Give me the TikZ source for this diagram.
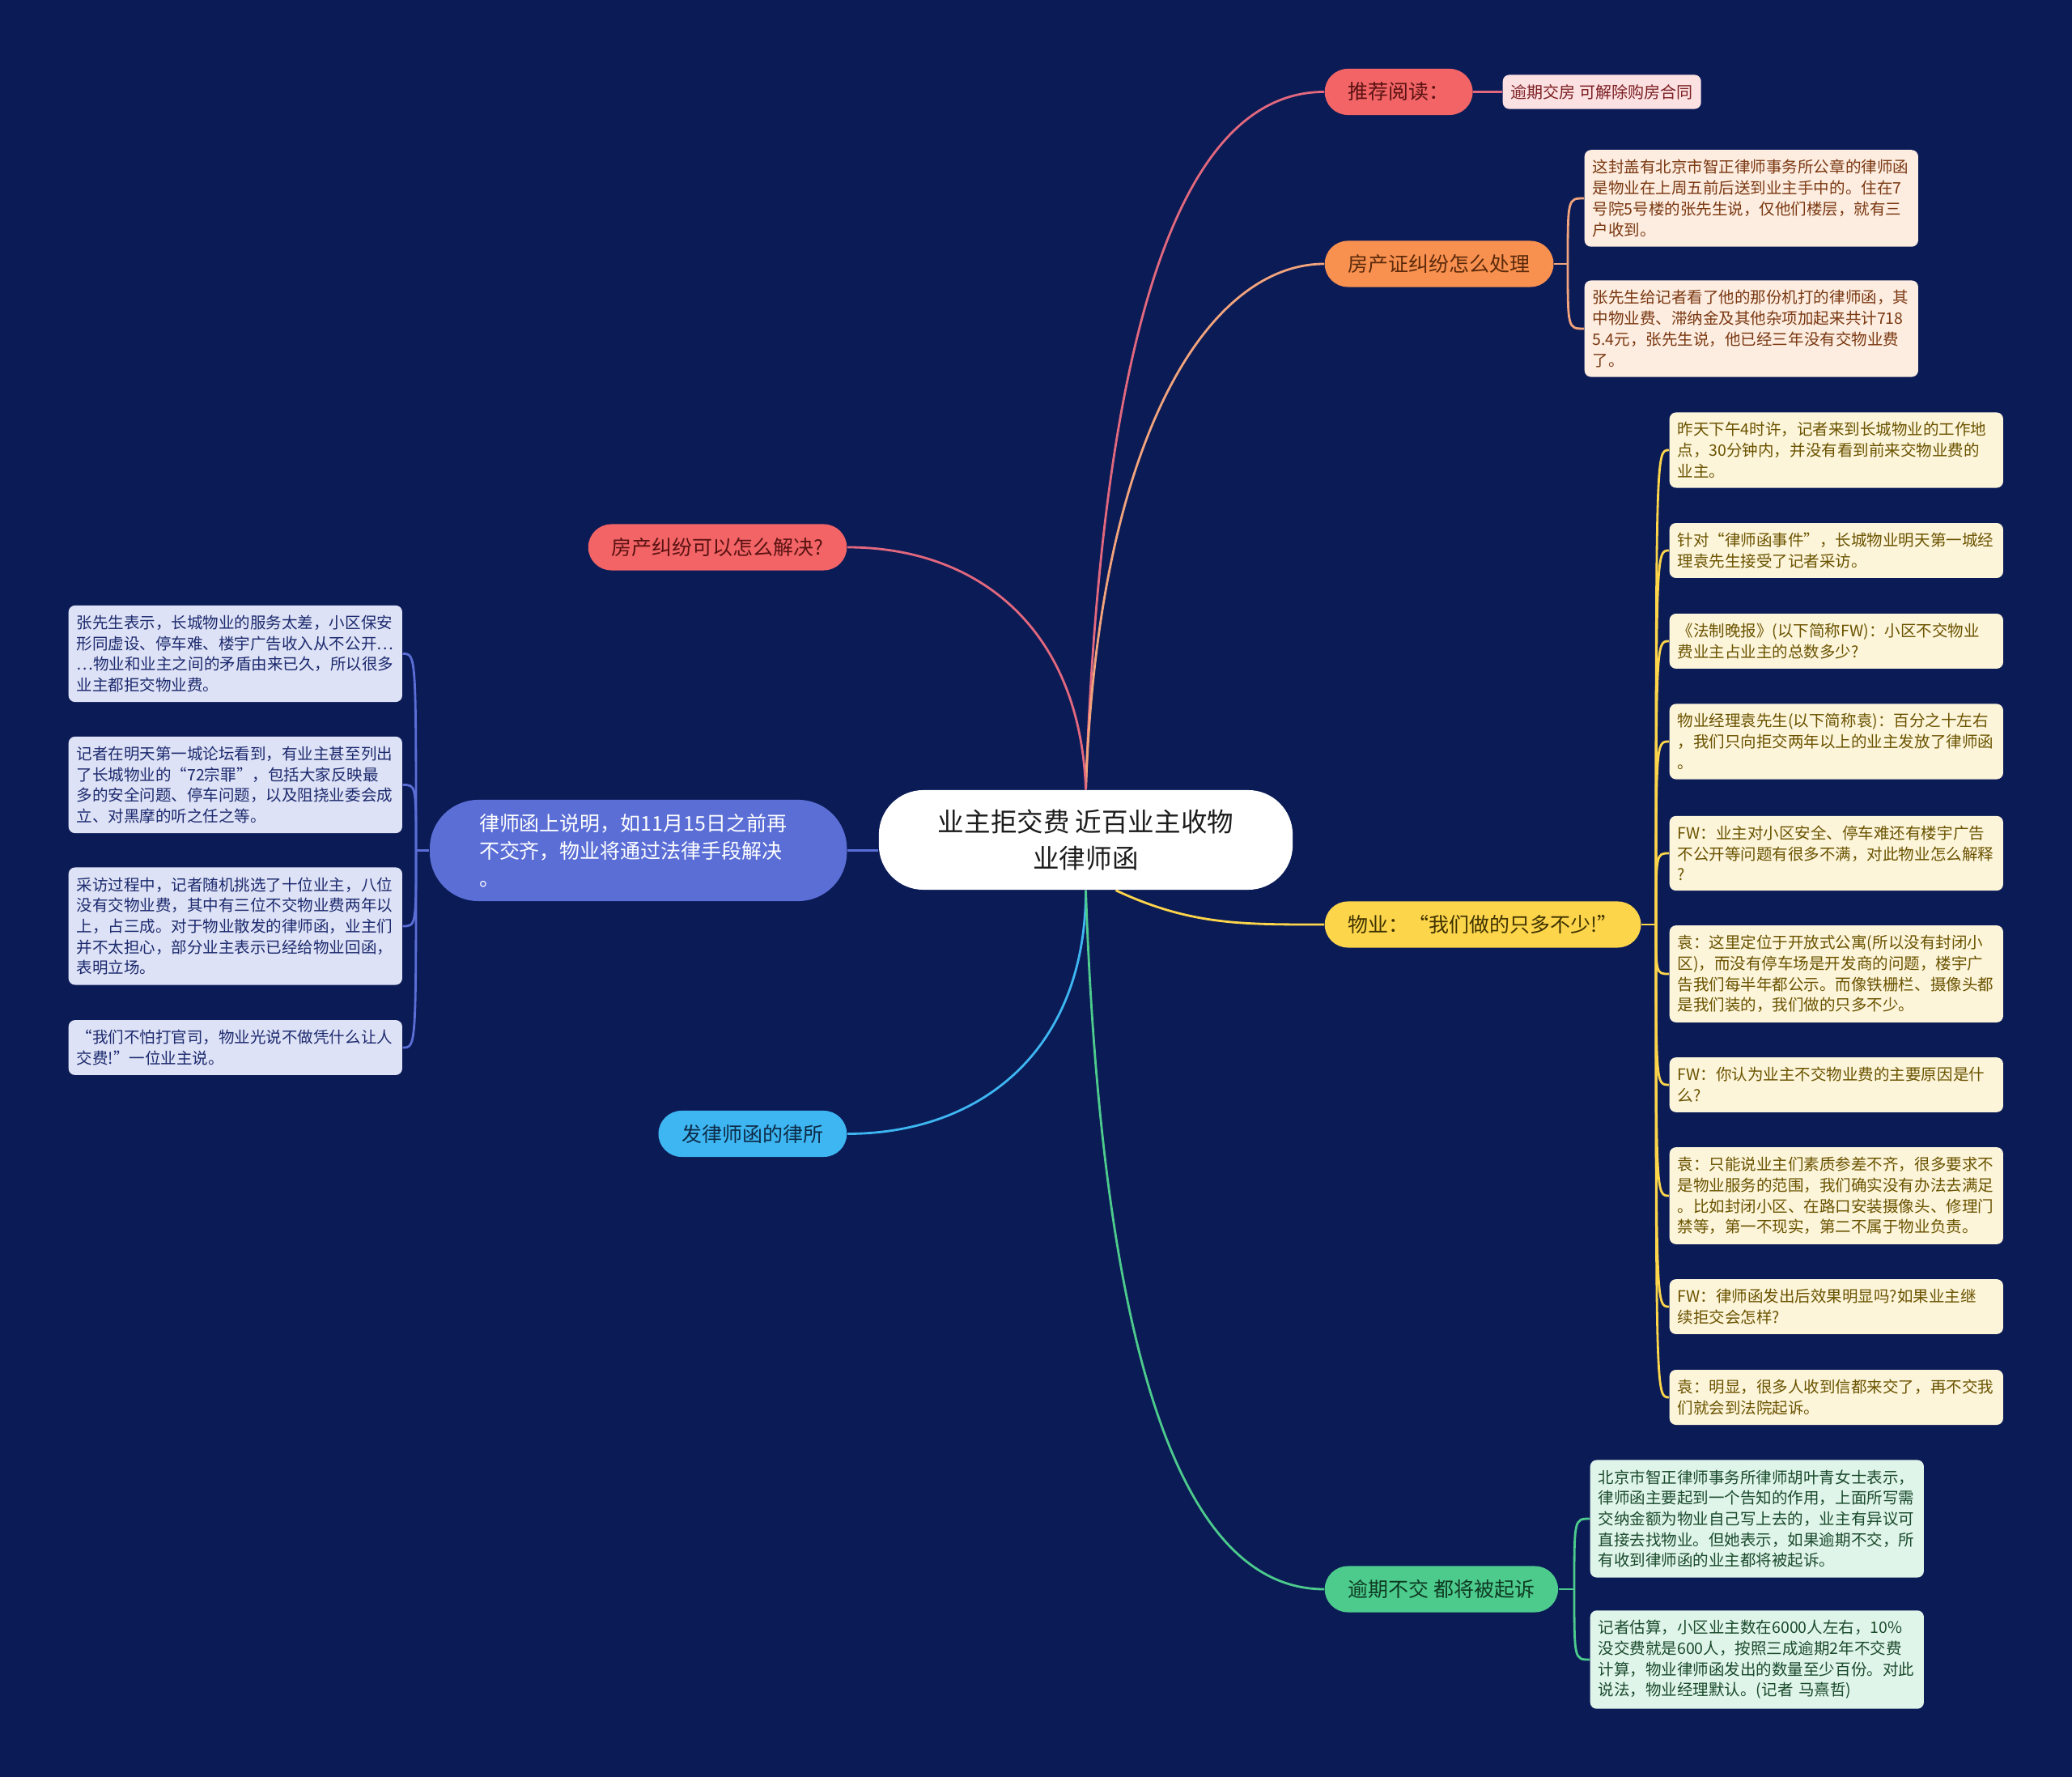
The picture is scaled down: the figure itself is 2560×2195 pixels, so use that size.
\documentclass[tikz,border=0pt]{standalone}
\usepackage{fontspec}
\setmainfont{Noto Sans CJK SC}
\pgfdeclarelayer{bg}
\pgfsetlayers{bg,main}

\definecolor{navy}{HTML}{0B1B56}
\definecolor{rootink}{HTML}{1C1C1C}
\definecolor{redfill}{HTML}{F26466}
\definecolor{redink}{HTML}{5A1212}
\definecolor{redline}{HTML}{E2687E}
\definecolor{pinkleaf}{HTML}{FCE1E3}
\definecolor{pinkink}{HTML}{7C1F22}
\definecolor{orangefill}{HTML}{F8904F}
\definecolor{orangeink}{HTML}{5C2A0B}
\definecolor{orangeline}{HTML}{F2A47C}
\definecolor{orangeleaf}{HTML}{FDEDE0}
\definecolor{orangeleafink}{HTML}{7A3812}
\definecolor{bluefill}{HTML}{5A6ED6}
\definecolor{blueleaf}{HTML}{DEE2F6}
\definecolor{blueleafink}{HTML}{1C2A6E}
\definecolor{skyfill}{HTML}{3DB6F2}
\definecolor{skyink}{HTML}{0D2B47}
\definecolor{yellowfill}{HTML}{FCD54B}
\definecolor{yellowink}{HTML}{3F3300}
\definecolor{yellowleaf}{HTML}{FDF5DA}
\definecolor{yellowleafink}{HTML}{6A5300}
\definecolor{greenfill}{HTML}{4DCB8D}
\definecolor{greenink}{HTML}{0D3A22}
\definecolor{greenleaf}{HTML}{E0F5EA}
\definecolor{greenleafink}{HTML}{1A4A2C}

\tikzset{
    rootbox/.style={fill=white, text=rootink, rounded corners=0.55cm,
        minimum width=5.11cm, minimum height=1.23cm, align=center,
        font=\fontsize{9.25pt}{12.8pt}\selectfont},
    branch/.style={rounded corners=0.285cm, minimum height=0.57cm,
        inner xsep=0.29cm, inner ysep=0pt,
        font=\fontsize{7.1pt}{9.67pt}\selectfont},
    leaf/.style={rounded corners=0.08cm, text width=3.92cm, align=left,
        inner xsep=0.1cm, inner ysep=0.12cm,
        font=\fontsize{5.55pt}{7.31pt}\selectfont},
    link/.style={line width=0.8pt},
    spine/.style={to path={.. controls (\tikztostart |- \tikztotarget) .. (\tikztotarget)}}
}

\begin{document}
\begin{tikzpicture}[x=0.01cm, y=-0.01cm]
    \begin{pgfonlayer}{bg}
        \fill[navy] (0,0) rectangle (2560,2195);
    \end{pgfonlayer}
    \useasboundingbox (0,0) rectangle (2560,2195);

    \node (root) [rootbox] at (1341.5, 1037.5) {业主拒交费 近百业主收物\\业律师函};

    \node (tuijian) [branch, fill=redfill, text=redink, anchor=west] at (1636, 113.5) {推荐阅读：};
    \node (tjleaf) [rounded corners=0.08cm, fill=pinkleaf, text=pinkink, inner xsep=0.1cm, minimum height=0.41cm,
        font=\fontsize{5.7pt}{7.31pt}\selectfont, anchor=west] at (1856, 113.5) {逾期交房 可解除购房合同};

    \node (fczheng) [branch, fill=orangefill, text=orangeink, anchor=west] at (1636, 326) {房产证纠纷怎么处理};
    \node (fcz1) [leaf, fill=orangeleaf, text=orangeleafink, anchor=west] at (1957, 245)
        {这封盖有北京市智正律师事务所公章的律师函\\是物业在上周五前后送到业主手中的。住在7\\号院5号楼的张先生说，仅他们楼层，就有三\\户收到。};
    \node (fcz2) [leaf, fill=orangeleaf, text=orangeleafink, anchor=west] at (1957, 406)
        {张先生给记者看了他的那份机打的律师函，其\\中物业费、滞纳金及其他杂项加起来共计718\\5.4元，张先生说，他已经三年没有交物业费\\了。};

    \node (fcjf) [branch, fill=redfill, text=redink, anchor=east] at (1047, 676) {房产纠纷可以怎么解决?};

    \node (lshan) [rounded corners=0.6cm, fill=bluefill, text=white, minimum height=1.25cm,
        text width=3.93cm, inner xsep=0.61cm, align=left,
        font=\fontsize{7.1pt}{9.67pt}\selectfont, anchor=east] at (1047, 1050.5)
        {律师函上说明，如11月15日之前再\\不交齐，物业将通过法律手段解决\\。};
    \node (lsh1) [leaf, fill=blueleaf, text=blueleafink, anchor=west] at (84, 807.5)
        {张先生表示，长城物业的服务太差，小区保安\\形同虚设、停车难、楼宇广告收入从不公开…\\…物业和业主之间的矛盾由来已久，所以很多\\业主都拒交物业费。};
    \node (lsh2) [leaf, fill=blueleaf, text=blueleafink, anchor=west] at (84, 969.5)
        {记者在明天第一城论坛看到，有业主甚至列出\\了长城物业的“72宗罪”，包括大家反映最\\多的安全问题、停车问题，以及阻挠业委会成\\立、对黑摩的听之任之等。};
    \node (lsh3) [leaf, fill=blueleaf, text=blueleafink, anchor=west] at (84, 1144)
        {采访过程中，记者随机挑选了十位业主，八位\\没有交物业费，其中有三位不交物业费两年以\\上，占三成。对于物业散发的律师函，业主们\\并不太担心，部分业主表示已经给物业回函，\\表明立场。};
    \node (lsh4) [leaf, fill=blueleaf, text=blueleafink, anchor=west] at (84, 1294)
        {“我们不怕打官司，物业光说不做凭什么让人\\交费!”一位业主说。};

    \node (lsuo) [branch, fill=skyfill, text=skyink, anchor=east] at (1047, 1400.5) {发律师函的律所};

    \node (wuye) [branch, fill=yellowfill, text=yellowink, anchor=west] at (1636, 1142) {物业：“我们做的只多不少!”};
    \node (wy1) [leaf, fill=yellowleaf, text=yellowleafink, anchor=west] at (2062, 556)
        {昨天下午4时许，记者来到长城物业的工作地\\点，30分钟内，并没有看到前来交物业费的\\业主。};
    \node (wy2) [leaf, fill=yellowleaf, text=yellowleafink, anchor=west] at (2062, 680)
        {针对“律师函事件”，长城物业明天第一城经\\理袁先生接受了记者采访。};
    \node (wy3) [leaf, fill=yellowleaf, text=yellowleafink, anchor=west] at (2062, 792)
        {《法制晚报》(以下简称FW)：小区不交物业\\费业主占业主的总数多少?};
    \node (wy4) [leaf, fill=yellowleaf, text=yellowleafink, anchor=west] at (2062, 916)
        {物业经理袁先生(以下简称袁)：百分之十左右\\，我们只向拒交两年以上的业主发放了律师函\\。};
    \node (wy5) [leaf, fill=yellowleaf, text=yellowleafink, anchor=west] at (2062, 1054)
        {FW：业主对小区安全、停车难还有楼宇广告\\不公开等问题有很多不满，对此物业怎么解释\\?};
    \node (wy6) [leaf, fill=yellowleaf, text=yellowleafink, anchor=west] at (2062, 1203)
        {袁：这里定位于开放式公寓(所以没有封闭小\\区)，而没有停车场是开发商的问题，楼宇广\\告我们每半年都公示。而像铁栅栏、摄像头都\\是我们装的，我们做的只多不少。};
    \node (wy7) [leaf, fill=yellowleaf, text=yellowleafink, anchor=west] at (2062, 1340)
        {FW：你认为业主不交物业费的主要原因是什\\么?};
    \node (wy8) [leaf, fill=yellowleaf, text=yellowleafink, anchor=west] at (2062, 1477)
        {袁：只能说业主们素质参差不齐，很多要求不\\是物业服务的范围，我们确实没有办法去满足\\。比如封闭小区、在路口安装摄像头、修理门\\禁等，第一不现实，第二不属于物业负责。};
    \node (wy9) [leaf, fill=yellowleaf, text=yellowleafink, anchor=west] at (2062, 1614)
        {FW：律师函发出后效果明显吗?如果业主继\\续拒交会怎样?};
    \node (wy10) [leaf, fill=yellowleaf, text=yellowleafink, anchor=west] at (2062, 1726)
        {袁：明显，很多人收到信都来交了，再不交我\\们就会到法院起诉。};

    \node (yuqi) [branch, fill=greenfill, text=greenink, anchor=west] at (1636, 1963) {逾期不交 都将被起诉};
    \node (yq1) [leaf, fill=greenleaf, text=greenleafink, anchor=west] at (1964, 1876)
        {北京市智正律师事务所律师胡叶青女士表示，\\律师函主要起到一个告知的作用，上面所写需\\交纳金额为物业自己写上去的，业主有异议可\\直接去找物业。但她表示，如果逾期不交，所\\有收到律师函的业主都将被起诉。};
    \node (yq2) [leaf, fill=greenleaf, text=greenleafink, anchor=west] at (1964, 2050)
        {记者估算，小区业主数在6000人左右，10\%\\没交费就是600人，按照三成逾期2年不交费\\计算，物业律师函发出的数量至少百份。对此\\说法，物业经理默认。(记者 马熹哲)};

    \coordinate (fczx) at (1937, 326);
    \coordinate (lshx) at (514, 1050.5);
    \coordinate (wyx) at (2046, 1142);
    \coordinate (yqx) at (1945, 1963);

    \begin{pgfonlayer}{bg}
        \draw (root.north) edge[link, redline, out=88, in=180, out looseness=1.6, in looseness=0.5] (tuijian.west);
        \draw (root.north) edge[link, orangeline, out=88, in=180, out looseness=1.6, in looseness=0.5] (fczheng.west);
        \draw (root.north) edge[link, redline, out=92, in=0, out looseness=1.2] (fcjf.east);
        \draw (root.west |- lshan.east) edge[link, bluefill] (lshan.east);
        \draw (root.south) edge[link, skyfill, out=-90, in=0, out looseness=1.2] (lsuo.east);
        \draw ([xshift=0.37cm]root.south) edge[link, yellowfill, out=-25, in=180] (wuye.west);
        \draw (root.south) edge[link, greenfill, out=-88, in=180, out looseness=1.6, in looseness=0.5] (yuqi.west);

        \draw (tuijian.east) edge[link, redline] (tjleaf.west);

        \draw (fczheng.east) edge[link, orangeline] (fczx);
        \draw (fczx) edge[link, orangeline, spine] (fcz1.west);
        \draw (fczx) edge[link, orangeline, spine] (fcz2.west);

        \draw (lshan.west) edge[link, bluefill] (lshx);
        \draw (lshx) edge[link, bluefill, spine] (lsh1.east);
        \draw (lshx) edge[link, bluefill, spine] (lsh2.east);
        \draw (lshx) edge[link, bluefill, spine] (lsh3.east);
        \draw (lshx) edge[link, bluefill, spine] (lsh4.east);

        \draw (wuye.east) edge[link, yellowfill] (wyx);
        \draw (wyx) edge[link, yellowfill, spine] (wy1.west);
        \draw (wyx) edge[link, yellowfill, spine] (wy2.west);
        \draw (wyx) edge[link, yellowfill, spine] (wy3.west);
        \draw (wyx) edge[link, yellowfill, spine] (wy4.west);
        \draw (wyx) edge[link, yellowfill, spine] (wy5.west);
        \draw (wyx) edge[link, yellowfill, spine] (wy6.west);
        \draw (wyx) edge[link, yellowfill, spine] (wy7.west);
        \draw (wyx) edge[link, yellowfill, spine] (wy8.west);
        \draw (wyx) edge[link, yellowfill, spine] (wy9.west);
        \draw (wyx) edge[link, yellowfill, spine] (wy10.west);

        \draw (yuqi.east) edge[link, greenfill] (yqx);
        \draw (yqx) edge[link, greenfill, spine] (yq1.west);
        \draw (yqx) edge[link, greenfill, spine] (yq2.west);
    \end{pgfonlayer}
\end{tikzpicture}
\end{document}
